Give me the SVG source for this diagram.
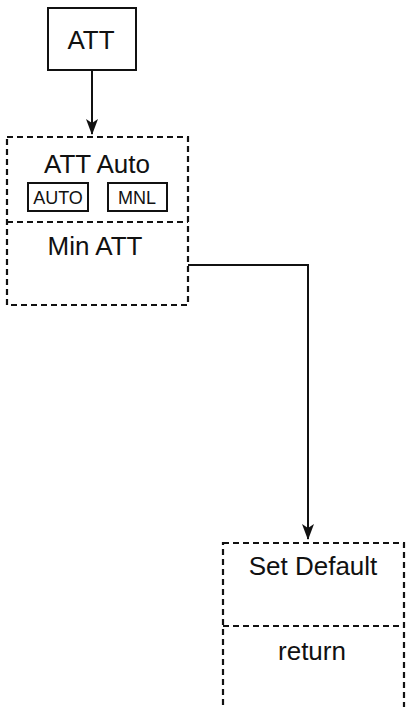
<svg xmlns="http://www.w3.org/2000/svg" width="413" height="707" viewBox="0 0 413 707">
<defs>
<style>
.solid{fill:none;stroke:#111;stroke-width:2}
.dash{fill:none;stroke:#111;stroke-width:2.2;stroke-dasharray:6 4}
.conn{fill:none;stroke:#111;stroke-width:2}
.t{font-family:"Liberation Sans",Arial,sans-serif;fill:#111;text-anchor:middle}
.big{font-size:26px}
.small{font-size:18px}
</style>
<marker id="ah" viewBox="0 0 16 12" refX="15" refY="6" markerWidth="16" markerHeight="12" markerUnits="userSpaceOnUse" orient="auto">
<path d="M0,0 L16,6 L0,12 L4,6 Z" fill="#111"/>
</marker>
</defs>
<rect width="413" height="707" fill="#fff"/>
<g id="connectors">
<path class="conn" d="M92,70 V134" marker-end="url(#ah)"/>
<path class="conn" d="M188,265 H308 V539" marker-end="url(#ah)"/>
</g>
<g id="node-att">
<rect class="solid" x="48" y="8" width="88" height="62"/>
<text class="t big" x="91" y="49">ATT</text>
</g>
<g id="node-att-auto">
<rect class="dash" x="7" y="137" width="181" height="168"/>
<line class="dash" x1="7" y1="222" x2="188" y2="222"/>
<text class="t big" x="97" y="173">ATT Auto</text>
<rect class="solid" x="28" y="183" width="60" height="28"/>
<text class="t small" x="58" y="204">AUTO</text>
<rect class="solid" x="108" y="183" width="59" height="28"/>
<text class="t small" x="137" y="204">MNL</text>
<text class="t big" x="95" y="255">Min ATT</text>
</g>
<g id="node-set-default">
<rect class="dash" x="223" y="543" width="181" height="180"/>
<line class="dash" x1="223" y1="626" x2="404" y2="626"/>
<text class="t big" x="313" y="575">Set Default</text>
<text class="t big" x="312" y="660">return</text>
</g>
</svg>
